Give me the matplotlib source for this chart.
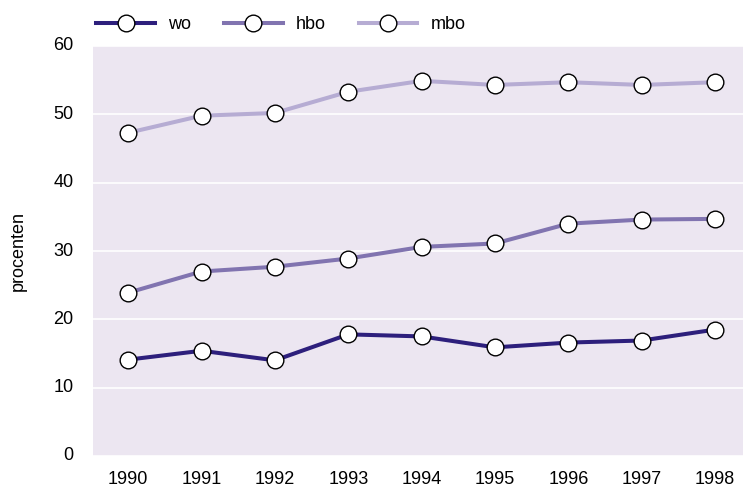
import matplotlib.pyplot as plt
from matplotlib.lines import Line2D

plt.rcParams['font.family'] = ['Liberation Sans', 'DejaVu Sans']

years = [1990, 1991, 1992, 1993, 1994, 1995, 1996, 1997, 1998]
wo = [14.1, 15.4, 14.0, 17.8, 17.5, 15.9, 16.6, 16.9, 18.5]
hbo = [23.9, 27.0, 27.7, 28.9, 30.6, 31.1, 34.0, 34.6, 34.7]
mbo = [47.3, 49.8, 50.2, 53.3, 54.9, 54.3, 54.7, 54.3, 54.7]

series = [("wo", wo, "#2d1f7c"), ("hbo", hbo, "#8174b0"), ("mbo", mbo, "#b6acd3")]

fig = plt.figure(figsize=(7.43, 4.87), dpi=100)
ax = fig.add_axes([93 / 743, 1 - 456 / 487, 650 / 743, 410 / 487])
ax.set_facecolor("#ece6f1")

for name, vals, col in series:
    ax.plot(years, vals, color=col, lw=2.9, marker="o", ms=12,
            mfc="white", mec="black", mew=1.0, zorder=3)

ax.set_xlim(1989.52, 1998.38)
ax.set_ylim(0, 60)
ax.set_yticks(range(0, 61, 10))
ax.set_xticks(years)
ax.grid(axis="y", color="white", lw=1.2)
ax.set_axisbelow(True)
for s in ax.spines.values():
    s.set_visible(False)
ax.tick_params(length=0, labelsize=13, colors="black")
ax.tick_params(axis="x", pad=11)
ax.tick_params(axis="y", pad=14)
for lab in ax.get_yticklabels():
    lab.set_verticalalignment("center")
ax.set_ylabel("procenten", fontsize=13, labelpad=19)

handles = [Line2D([], [], color=col, lw=2.9, marker="o", ms=12,
                  mfc="white", mec="black", mew=1.0) for _, _, col in series]
fig.legend(handles, [n for n, _, _ in series], loc="upper left",
           bbox_to_anchor=(80 / 743, 1.0), ncol=3, frameon=False,
           fontsize=13, handlelength=3.25, columnspacing=1.8, handletextpad=0.75)

fig.savefig("out.png", dpi=100)
